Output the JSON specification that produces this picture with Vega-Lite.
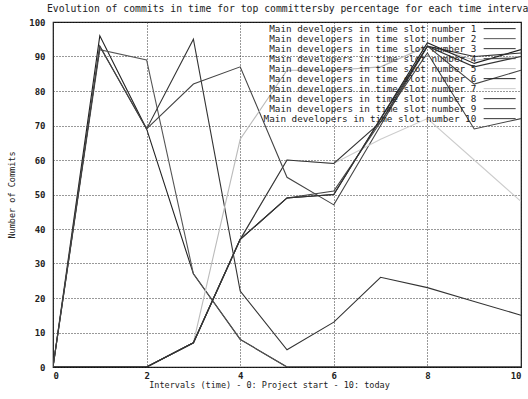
{
  "$schema": "https://vega.github.io/schema/vega-lite/v6.json",
  "width": 468,
  "height": 345,
  "autosize": {"type": "none"},
  "padding": {"left": 53, "top": 22, "right": 7, "bottom": 32},
  "background": "white",
  "title": {
    "text": "Evolution of commits in time for top committersby percentage for each time interval",
    "anchor": "start",
    "frame": "group",
    "dx": -6,
    "offset": 4,
    "font": "DejaVu Sans Mono",
    "fontSize": 9.75,
    "fontWeight": "normal",
    "color": "#222"
  },
  "config": {
    "view": {"stroke": "#111", "strokeWidth": 1.2},
    "axis": {
      "labelFont": "DejaVu Sans Mono",
      "labelFontSize": 9,
      "labelFontWeight": "bold",
      "labelColor": "#222",
      "titleFont": "DejaVu Sans Mono",
      "titleFontSize": 8.5,
      "titleFontWeight": "normal",
      "titleColor": "#222",
      "domain": false,
      "ticks": false,
      "grid": true,
      "gridColor": "#333",
      "gridDash": [1, 2],
      "gridWidth": 1,
      "gridOpacity": 1
    },
    "legend": {
      "labelFont": "DejaVu Sans Mono",
      "labelFontSize": 9.3,
      "labelColor": "#222"
    }
  },
  "data": {
    "values": [
      {"s": "Main developers in time slot number 1", "x": 0, "v": 0},
      {"s": "Main developers in time slot number 1", "x": 1, "v": 96},
      {"s": "Main developers in time slot number 1", "x": 2, "v": 69},
      {"s": "Main developers in time slot number 1", "x": 3, "v": 27},
      {"s": "Main developers in time slot number 1", "x": 4, "v": 8},
      {"s": "Main developers in time slot number 1", "x": 5, "v": 0},
      {"s": "Main developers in time slot number 1", "x": 6, "v": 0},
      {"s": "Main developers in time slot number 1", "x": 7, "v": 0},
      {"s": "Main developers in time slot number 1", "x": 8, "v": 0},
      {"s": "Main developers in time slot number 1", "x": 9, "v": 0},
      {"s": "Main developers in time slot number 1", "x": 10, "v": 0},
      {"s": "Main developers in time slot number 2", "x": 0, "v": 0},
      {"s": "Main developers in time slot number 2", "x": 1, "v": 92},
      {"s": "Main developers in time slot number 2", "x": 2, "v": 89},
      {"s": "Main developers in time slot number 2", "x": 3, "v": 27},
      {"s": "Main developers in time slot number 2", "x": 4, "v": 8},
      {"s": "Main developers in time slot number 2", "x": 5, "v": 0},
      {"s": "Main developers in time slot number 2", "x": 6, "v": 0},
      {"s": "Main developers in time slot number 2", "x": 7, "v": 0},
      {"s": "Main developers in time slot number 2", "x": 8, "v": 0},
      {"s": "Main developers in time slot number 2", "x": 9, "v": 0},
      {"s": "Main developers in time slot number 2", "x": 10, "v": 0},
      {"s": "Main developers in time slot number 3", "x": 0, "v": 0},
      {"s": "Main developers in time slot number 3", "x": 1, "v": 93},
      {"s": "Main developers in time slot number 3", "x": 2, "v": 69},
      {"s": "Main developers in time slot number 3", "x": 3, "v": 95},
      {"s": "Main developers in time slot number 3", "x": 4, "v": 22},
      {"s": "Main developers in time slot number 3", "x": 5, "v": 5},
      {"s": "Main developers in time slot number 3", "x": 6, "v": 13},
      {"s": "Main developers in time slot number 3", "x": 7, "v": 26},
      {"s": "Main developers in time slot number 3", "x": 8, "v": 23},
      {"s": "Main developers in time slot number 3", "x": 9, "v": 19},
      {"s": "Main developers in time slot number 3", "x": 10, "v": 15},
      {"s": "Main developers in time slot number 4", "x": 0, "v": 0},
      {"s": "Main developers in time slot number 4", "x": 1, "v": 93},
      {"s": "Main developers in time slot number 4", "x": 2, "v": 69},
      {"s": "Main developers in time slot number 4", "x": 3, "v": 82},
      {"s": "Main developers in time slot number 4", "x": 4, "v": 87},
      {"s": "Main developers in time slot number 4", "x": 5, "v": 55},
      {"s": "Main developers in time slot number 4", "x": 6, "v": 47},
      {"s": "Main developers in time slot number 4", "x": 7, "v": 70},
      {"s": "Main developers in time slot number 4", "x": 8, "v": 93},
      {"s": "Main developers in time slot number 4", "x": 9, "v": 82},
      {"s": "Main developers in time slot number 4", "x": 10, "v": 86},
      {"s": "Main developers in time slot number 5", "x": 0, "v": 0},
      {"s": "Main developers in time slot number 5", "x": 1, "v": 0},
      {"s": "Main developers in time slot number 5", "x": 2, "v": 0},
      {"s": "Main developers in time slot number 5", "x": 3, "v": 7},
      {"s": "Main developers in time slot number 5", "x": 4, "v": 66},
      {"s": "Main developers in time slot number 5", "x": 5, "v": 86},
      {"s": "Main developers in time slot number 5", "x": 6, "v": 86},
      {"s": "Main developers in time slot number 5", "x": 7, "v": 87},
      {"s": "Main developers in time slot number 5", "x": 8, "v": 93},
      {"s": "Main developers in time slot number 5", "x": 9, "v": 89},
      {"s": "Main developers in time slot number 5", "x": 10, "v": 90},
      {"s": "Main developers in time slot number 6", "x": 0, "v": 0},
      {"s": "Main developers in time slot number 6", "x": 1, "v": 0},
      {"s": "Main developers in time slot number 6", "x": 2, "v": 0},
      {"s": "Main developers in time slot number 6", "x": 3, "v": 7},
      {"s": "Main developers in time slot number 6", "x": 4, "v": 37},
      {"s": "Main developers in time slot number 6", "x": 5, "v": 49},
      {"s": "Main developers in time slot number 6", "x": 6, "v": 50},
      {"s": "Main developers in time slot number 6", "x": 7, "v": 72},
      {"s": "Main developers in time slot number 6", "x": 8, "v": 94},
      {"s": "Main developers in time slot number 6", "x": 9, "v": 88},
      {"s": "Main developers in time slot number 6", "x": 10, "v": 92},
      {"s": "Main developers in time slot number 7", "x": 0, "v": 0},
      {"s": "Main developers in time slot number 7", "x": 1, "v": 0},
      {"s": "Main developers in time slot number 7", "x": 2, "v": 0},
      {"s": "Main developers in time slot number 7", "x": 3, "v": 7},
      {"s": "Main developers in time slot number 7", "x": 4, "v": 37},
      {"s": "Main developers in time slot number 7", "x": 5, "v": 60},
      {"s": "Main developers in time slot number 7", "x": 6, "v": 59},
      {"s": "Main developers in time slot number 7", "x": 7, "v": 66},
      {"s": "Main developers in time slot number 7", "x": 8, "v": 72},
      {"s": "Main developers in time slot number 7", "x": 9, "v": 60},
      {"s": "Main developers in time slot number 7", "x": 10, "v": 48},
      {"s": "Main developers in time slot number 8", "x": 0, "v": 0},
      {"s": "Main developers in time slot number 8", "x": 1, "v": 0},
      {"s": "Main developers in time slot number 8", "x": 2, "v": 0},
      {"s": "Main developers in time slot number 8", "x": 3, "v": 7},
      {"s": "Main developers in time slot number 8", "x": 4, "v": 37},
      {"s": "Main developers in time slot number 8", "x": 5, "v": 60},
      {"s": "Main developers in time slot number 8", "x": 6, "v": 59},
      {"s": "Main developers in time slot number 8", "x": 7, "v": 71},
      {"s": "Main developers in time slot number 8", "x": 8, "v": 93},
      {"s": "Main developers in time slot number 8", "x": 9, "v": 90},
      {"s": "Main developers in time slot number 8", "x": 10, "v": 91},
      {"s": "Main developers in time slot number 9", "x": 0, "v": 0},
      {"s": "Main developers in time slot number 9", "x": 1, "v": 0},
      {"s": "Main developers in time slot number 9", "x": 2, "v": 0},
      {"s": "Main developers in time slot number 9", "x": 3, "v": 7},
      {"s": "Main developers in time slot number 9", "x": 4, "v": 37},
      {"s": "Main developers in time slot number 9", "x": 5, "v": 49},
      {"s": "Main developers in time slot number 9", "x": 6, "v": 51},
      {"s": "Main developers in time slot number 9", "x": 7, "v": 71},
      {"s": "Main developers in time slot number 9", "x": 8, "v": 91},
      {"s": "Main developers in time slot number 9", "x": 9, "v": 69},
      {"s": "Main developers in time slot number 9", "x": 10, "v": 72},
      {"s": "Main developers in time slot number 10", "x": 0, "v": 0},
      {"s": "Main developers in time slot number 10", "x": 1, "v": 0},
      {"s": "Main developers in time slot number 10", "x": 2, "v": 0},
      {"s": "Main developers in time slot number 10", "x": 3, "v": 7},
      {"s": "Main developers in time slot number 10", "x": 4, "v": 37},
      {"s": "Main developers in time slot number 10", "x": 5, "v": 49},
      {"s": "Main developers in time slot number 10", "x": 6, "v": 50},
      {"s": "Main developers in time slot number 10", "x": 7, "v": 72},
      {"s": "Main developers in time slot number 10", "x": 8, "v": 93},
      {"s": "Main developers in time slot number 10", "x": 9, "v": 87},
      {"s": "Main developers in time slot number 10", "x": 10, "v": 90}
    ]
  },
  "mark": {"type": "line", "strokeWidth": 1.1, "clip": true},
  "encoding": {
    "x": {
      "field": "x",
      "type": "quantitative",
      "scale": {"domain": [0, 10], "nice": false, "zero": false},
      "axis": {"values": [0, 2, 4, 6, 8, 10], "title": "Intervals (time) - 0: Project start - 10: today", "labelPadding": 4, "titlePadding": 0, "titleX": 216}
    },
    "y": {
      "field": "v",
      "type": "quantitative",
      "scale": {"domain": [0, 100], "nice": false},
      "axis": {"values": [0, 10, 20, 30, 40, 50, 60, 70, 80, 90, 100], "title": "Number of Commits", "labelPadding": 8, "titlePadding": 12}
    },
    "color": {
      "field": "s",
      "type": "nominal",
      "scale": {
        "domain": [
          "Main developers in time slot number 1",
          "Main developers in time slot number 2",
          "Main developers in time slot number 3",
          "Main developers in time slot number 4",
          "Main developers in time slot number 5",
          "Main developers in time slot number 6",
          "Main developers in time slot number 7",
          "Main developers in time slot number 8",
          "Main developers in time slot number 9",
          "Main developers in time slot number 10"
        ],
        "range": ["#222222", "#555555", "#333333", "#444444", "#bbbbbb", "#222222", "#cccccc", "#333333", "#444444", "#333333"]
      },
      "legend": {
        "title": null,
        "orient": "none",
        "legendX": 442,
        "legendY": 2,
        "symbolType": "M-4,0H4",
        "symbolSize": 64,
        "symbolStrokeWidth": 1,
        "labelAlign": "right",
        "labelOffset": -28,
        "labelLimit": 400,
        "rowPadding": 0
      }
    }
  }
}
